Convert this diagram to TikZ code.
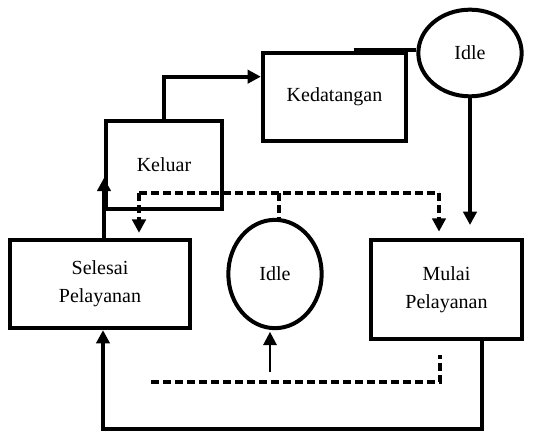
\documentclass[tikz,border=0pt]{standalone}
\usepackage{fontspec}
\setmainfont{Liberation Serif}
\usetikzlibrary{arrows.meta,shapes.geometric,calc}

\begin{document}
\begin{tikzpicture}[x=0.6pt, y=-0.6pt,
        every node/.style={font=\fontsize{12}{16.8}\selectfont, align=center},
        box/.style={draw, line width=2.4pt, rectangle, inner sep=0pt},
        state/.style={draw, line width=2.4pt, ellipse, inner sep=0pt},
        conn/.style={line width=2.2pt, -{Triangle[length=8pt,width=8pt]}},
        dsh/.style={line width=2.2pt, dash pattern=on 4.8pt off 2.4pt}]
        \useasboundingbox (0,0) rectangle (551,432);

        % nodes
        \node[box, minimum width=86pt, minimum height=53pt] (ked) at (334.5,97) {Kedatangan};
        \node[state, minimum width=62pt, minimum height=52pt] (idleA) at (470,53) {Idle};
        \node[box, minimum width=70pt, minimum height=53pt] (kel) at (164,165) {Keluar};
        \node[box, minimum width=108pt, minimum height=53pt] (sel) at (100,284) {Selesai\\Pelayanan};
        \node[box, minimum width=91pt, minimum height=59pt] (mul) at (446.5,289.5) {Mulai\\Pelayanan};
        \node[state, minimum width=56pt, minimum height=65pt] (idleB) at (275,274) {Idle};

        % solid connectors
        \coordinate (kedT) at ($(ked.north west)!0.63!(ked.north east)+(0,-1)$);
        \draw[line width=2.2pt]
            (kedT) -- (kedT -| idleA.west);
        \draw[conn, shorten >=8pt]
            (idleA.south) -- (idleA.south |- mul.north);
        \draw[conn]
            (kel.north) |- ($(ked.north west)!0.28!(ked.south west)$);
        \coordinate (selN) at ([xshift=2.4pt]sel.north);
        \draw[conn]
            (selN) -- ++(0,-60);
        \coordinate (selS) at ([xshift=1.8pt]sel.south);
        \coordinate (mulB) at ($(mul.south west)!0.73!(mul.south east)$);
        \coordinate (bot) at (0,429);
        \draw[conn]
            (mulB) |- (bot -| selS) -- (selS);

        % dashed connectors
        \coordinate (dA) at (139,193);
        \coordinate (dB) at (439,193);
        \coordinate (dC) at (279,193);
        \draw[dsh]
            (dA) -- (dB);
        \draw[dsh, -{Triangle[length=8pt,width=8pt]}, shorten >=3pt]
            (dA) -- (dA |- sel.north);
        \draw[dsh, -{Triangle[length=8pt,width=8pt]}, shorten >=4pt]
            (dB) -- (dB |- mul.north);
        \draw[dsh]
            (dC) -- (dC |- idleB.north);

        \coordinate (eA) at (440,382);
        \coordinate (eB) at (151,382);
        \draw[dsh]
            (eB) -- (eA) -- ++(0,-27);
        \coordinate (eC) at (270,372);
        \draw[line width=1.4pt, -{Triangle[length=8pt,width=8pt]}, shorten >=1pt]
            (eC) -- (eC |- idleB.south);
\end{tikzpicture}
\end{document}
